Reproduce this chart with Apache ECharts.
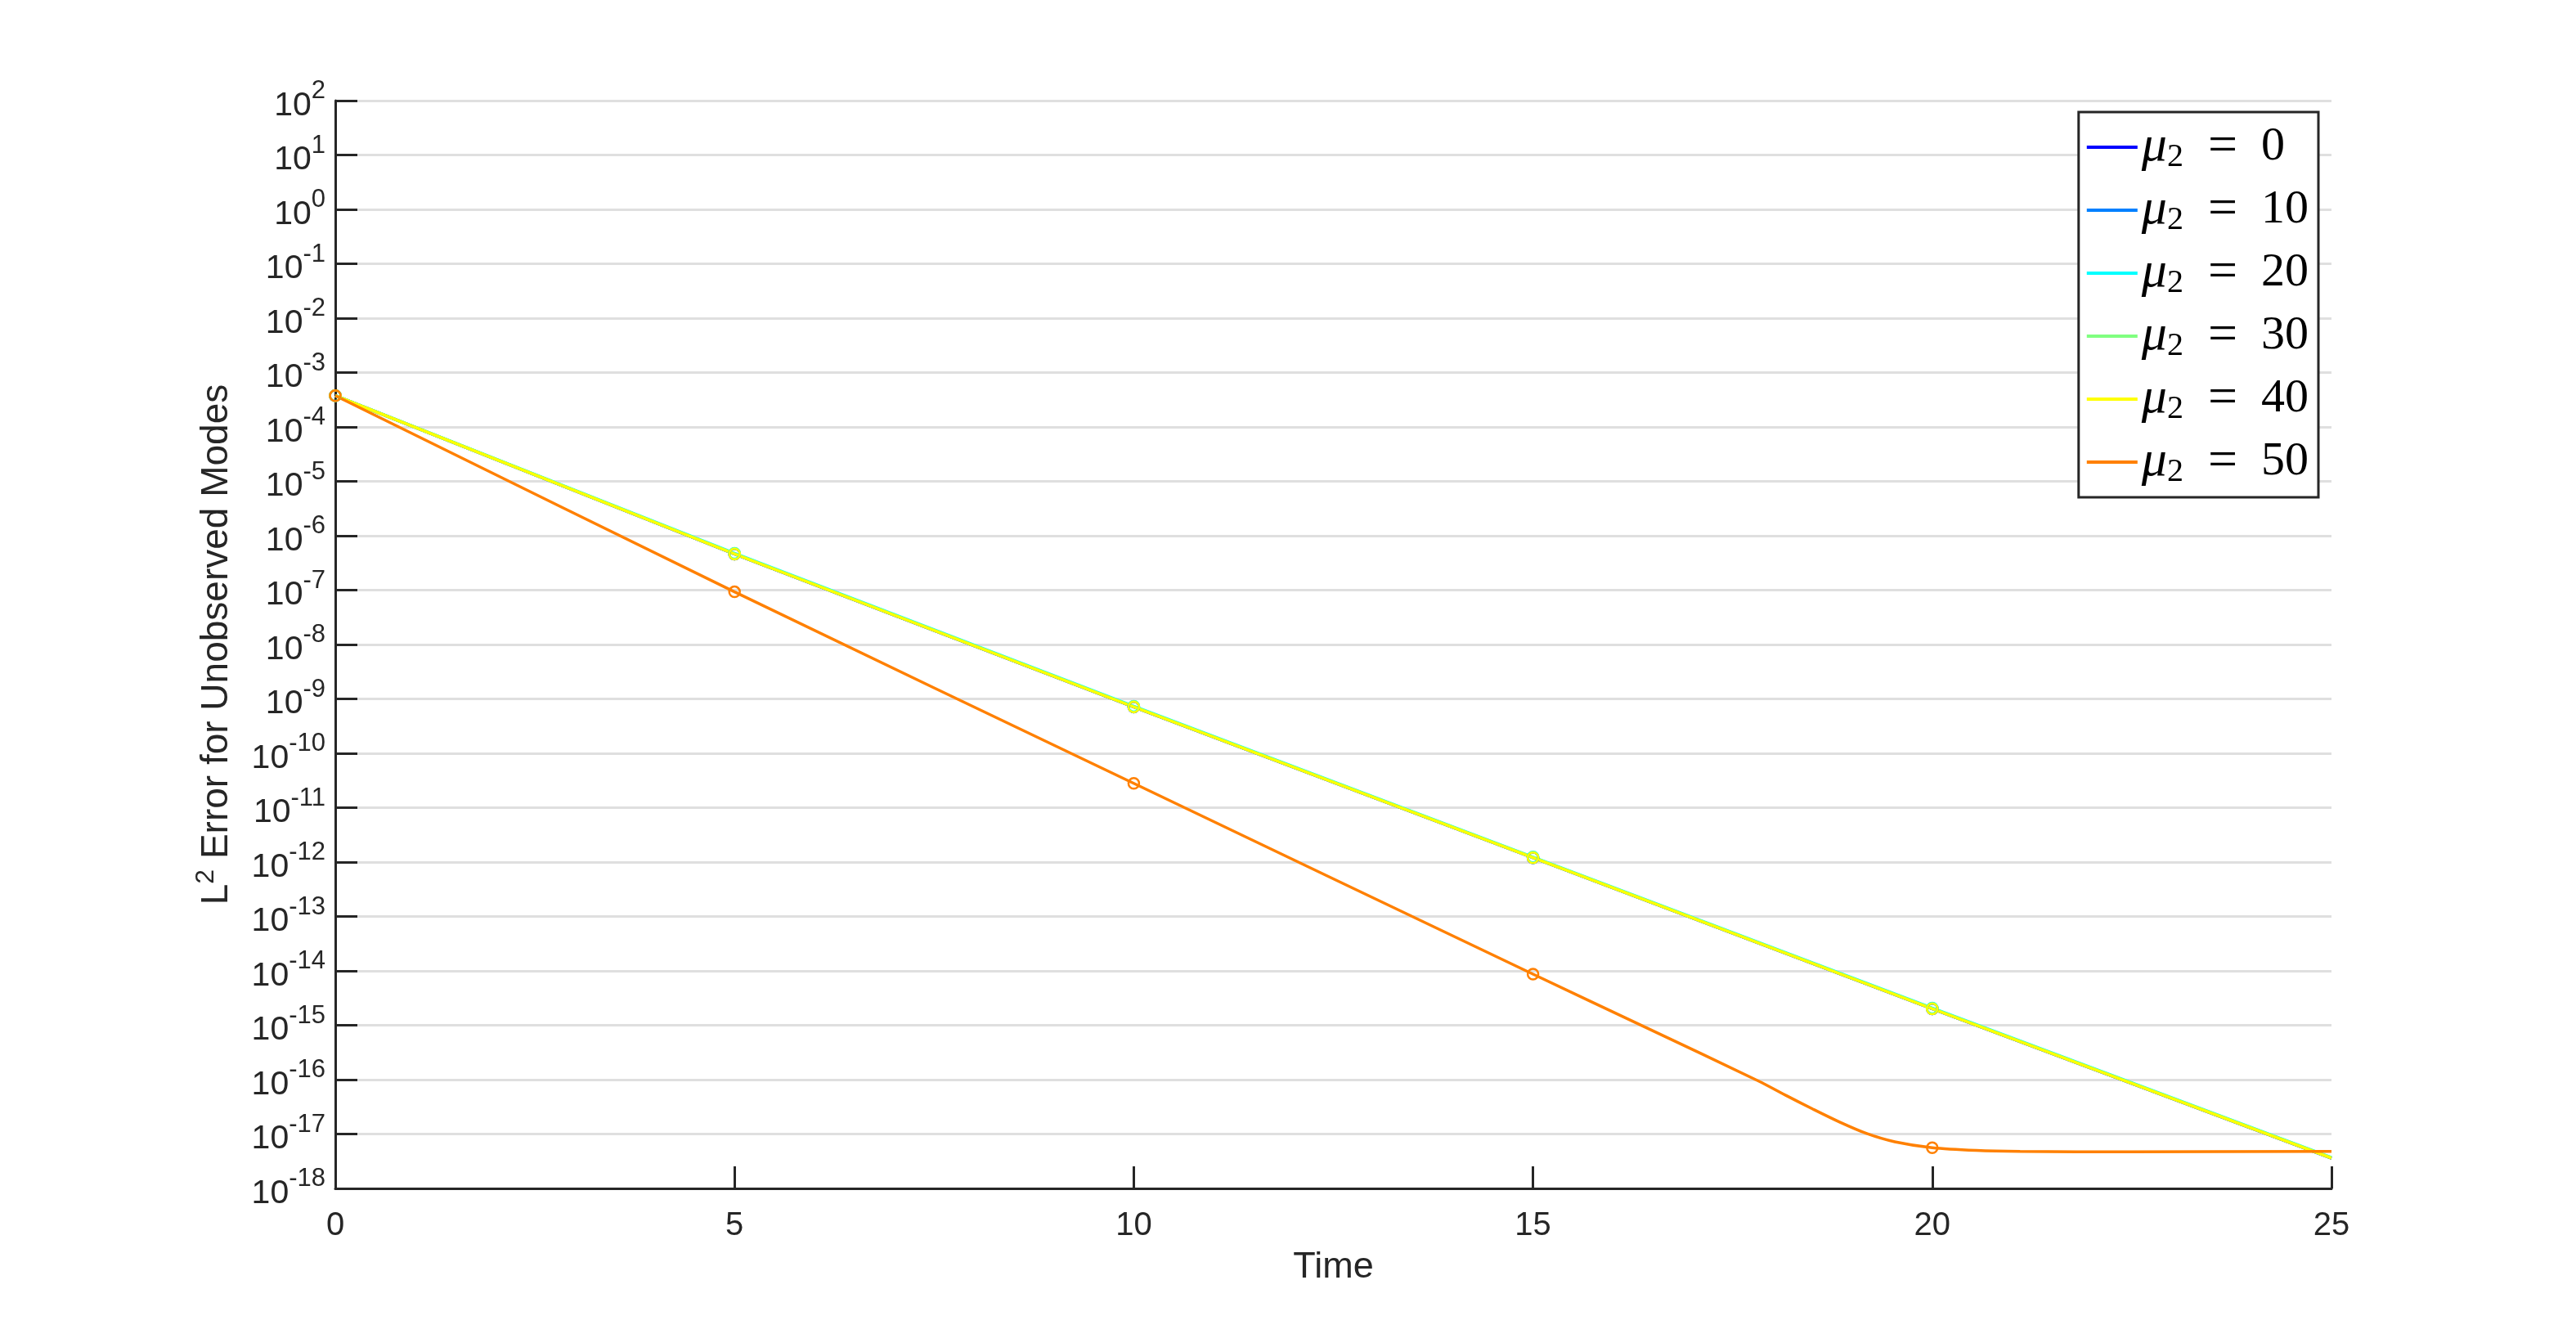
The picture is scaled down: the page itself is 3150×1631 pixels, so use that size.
<!DOCTYPE html>
<html>
<head>
<meta charset="utf-8">
<title>L2 error for unobserved modes</title>
<script src="https://cdn.jsdelivr.net/npm/echarts@6/dist/echarts.min.js"></script>
<style>
  html, body { margin: 0; padding: 0; background: #fff; }
  #chart { width: 3150px; height: 1631px; }
</style>
</head>
<body>
<div id="chart"></div>
<script>
// μ2 values of the six runs and their (jet) colours
var muValues = [0, 10, 20, 30, 40, 50]
var lineColors = ['#0000ff', '#0080ff', '#00ffff', '#80ff80', '#ffff00', '#ff8000']

// μ2 = 0 ... 40 : the curves lie almost on top of each other
var timeMain = [0, 5, 10, 15, 20, 25]
var errMu0 = [3.76e-4, 4.6e-7, 7.1e-10, 1.2e-12, 2.0e-15, 3.6e-18]
var errMu10 = [3.76e-4, 4.6e-7, 7.1e-10, 1.2e-12, 2.0e-15, 3.6e-18]
var errMu20 = [3.76e-4, 4.75e-7, 7.35e-10, 1.24e-12, 2.07e-15, 3.72e-18]
var errMu30 = [3.76e-4, 4.7e-7, 7.25e-10, 1.22e-12, 2.04e-15, 3.67e-18]
var errMu40 = [3.76e-4, 4.6e-7, 7.1e-10, 1.2e-12, 2.0e-15, 3.6e-18]

// μ2 = 50 : faster decay, then flat floor after t = 20
var timeMu50 = [0, 5, 10, 15, 16.4, 17.82, 18.16, 18.5, 18.84, 19.18, 19.53, 20, 20.55, 21.1, 22.5, 25]
var errMu50 = [3.76e-4, 9.3e-8, 2.8e-11, 8.7e-15, 9.3e-16, 9.5e-17, 5.2e-17, 2.9e-17, 1.66e-17, 1.02e-17, 7.2e-18, 5.6e-18, 5.0e-18, 4.8e-18, 4.7e-18, 4.8e-18]

// axis ticks
var xTicks = [0, 5, 10, 15, 20, 25]
var yMinExp = -18
var yMaxExp = 2

var axisColor = '#262626'
var sansFont = 'Liberation Sans'
var serifFont = 'Liberation Serif'

function pairs (times, vals) {
  var out = []
  for (var i = 0; i < times.length; i++) {
    out.push([times[i], vals[i]])
  }
  return out
}

var seriesTimes = [timeMain, timeMain, timeMain, timeMain, timeMain, timeMu50]
var seriesVals = [errMu0, errMu10, errMu20, errMu30, errMu40, errMu50]

var series = []
var legendData = []
for (var i = 0; i < muValues.length; i++) {
  var name = 'μ2 = ' + muValues[i]
  series.push({
    name: name,
    type: 'line',
    data: pairs(seriesTimes[i], seriesVals[i]),
    smooth: i === 5 ? 0.3 : false,
    // open circle every 5 time units, none at the last point
    symbol: function (v) {
      return (v[0] % 5 === 0 && v[0] < 25) ? 'circle' : 'none'
    },
    symbolSize: 13,
    showAllSymbol: true,
    lineStyle: { color: lineColors[i], width: 3.5 },
    itemStyle: { color: 'rgba(0,0,0,0)', borderColor: lineColors[i], borderWidth: 2.5 },
    emphasis: { disabled: true }
  })
  legendData.push({
    name: name,
    icon: 'rect',
    itemStyle: { color: lineColors[i], borderWidth: 0 }
  })
}

var option = {
  animation: false,
  backgroundColor: '#fff',
  grid: {
    left: 410,
    right: 299,
    top: 123,
    bottom: 178,
    containLabel: false
  },
  legend: {
    orient: 'vertical',
    right: 315,
    top: 137,
    padding: [11, 12, 11, 10],
    itemGap: 13,
    itemWidth: 62,
    itemHeight: 4,
    selectedMode: false,
    backgroundColor: '#fff',
    borderColor: axisColor,
    borderWidth: 3,
    borderRadius: 0,
    data: legendData,
    formatter: function (name) {
      var m = name.split('= ')[1]
      return '{mu|μ}{sub|2}{eq|=}{num|' + m + '}'
    },
    textStyle: {
      color: '#000',
      rich: {
        mu: { fontFamily: serifFont, fontStyle: 'italic', fontSize: 62, lineHeight: 64, color: '#000' },
        sub: { fontFamily: serifFont, fontSize: 40, lineHeight: 34, verticalAlign: 'bottom', color: '#000' },
        eq: { fontFamily: serifFont, fontSize: 64, lineHeight: 64, padding: [0, 29, 0, 30], color: '#000' },
        num: { fontFamily: serifFont, fontSize: 58, lineHeight: 64, color: '#000' }
      }
    }
  },
  xAxis: {
    type: 'value',
    min: xTicks[0],
    max: xTicks[xTicks.length - 1],
    interval: xTicks[1] - xTicks[0],
    name: 'Time',
    nameLocation: 'middle',
    nameGap: 74,
    nameTextStyle: { fontFamily: sansFont, fontSize: 45, color: axisColor },
    axisLine: { show: true, lineStyle: { color: axisColor, width: 3 } },
    axisTick: { show: true, inside: true, length: 27, lineStyle: { color: axisColor, width: 3 } },
    axisLabel: { fontFamily: sansFont, fontSize: 40, color: axisColor, margin: 26 },
    splitLine: { show: false }
  },
  yAxis: {
    type: 'log',
    logBase: 10,
    min: Math.pow(10, yMinExp),
    max: Math.pow(10, yMaxExp),
    interval: 1,
    name: '{t|L}{sup|2}{t| Error for Unobserved Modes}',
    nameLocation: 'middle',
    nameRotate: 90,
    nameGap: 122,
    nameTextStyle: {
      color: axisColor,
      rich: {
        t: { fontFamily: sansFont, fontSize: 46, lineHeight: 52, padding: [14, 0, 0, 0], verticalAlign: 'bottom', color: axisColor },
        sup: { fontFamily: sansFont, fontSize: 32, lineHeight: 30, verticalAlign: 'top', color: axisColor }
      }
    },
    axisLine: { show: true, lineStyle: { color: axisColor, width: 3 } },
    axisTick: { show: true, inside: true, length: 27, lineStyle: { color: axisColor, width: 3 } },
    axisLabel: {
      margin: 12,
      color: axisColor,
      formatter: function (v) {
        var e = Math.round(Math.log10(v))
        // zero-width strut sets the line height, base sits low, exponent high
        return '{h|\u200b}{b|10}{s|' + (e < 0 ? '-' + (-e) : e) + '}'
      },
      rich: {
        h: { fontSize: 10, lineHeight: 54, verticalAlign: 'middle' },
        b: { fontFamily: sansFont, fontSize: 41, lineHeight: 40, verticalAlign: 'bottom', color: axisColor },
        s: { fontFamily: sansFont, fontSize: 31, lineHeight: 30, verticalAlign: 'top', color: axisColor }
      }
    },
    splitLine: { show: true, lineStyle: { color: '#dfdfdf', width: 3 } }
  },
  series: series
}

var myChart = echarts.init(document.getElementById('chart'))
myChart.setOption(option)
</script>
</body>
</html>
